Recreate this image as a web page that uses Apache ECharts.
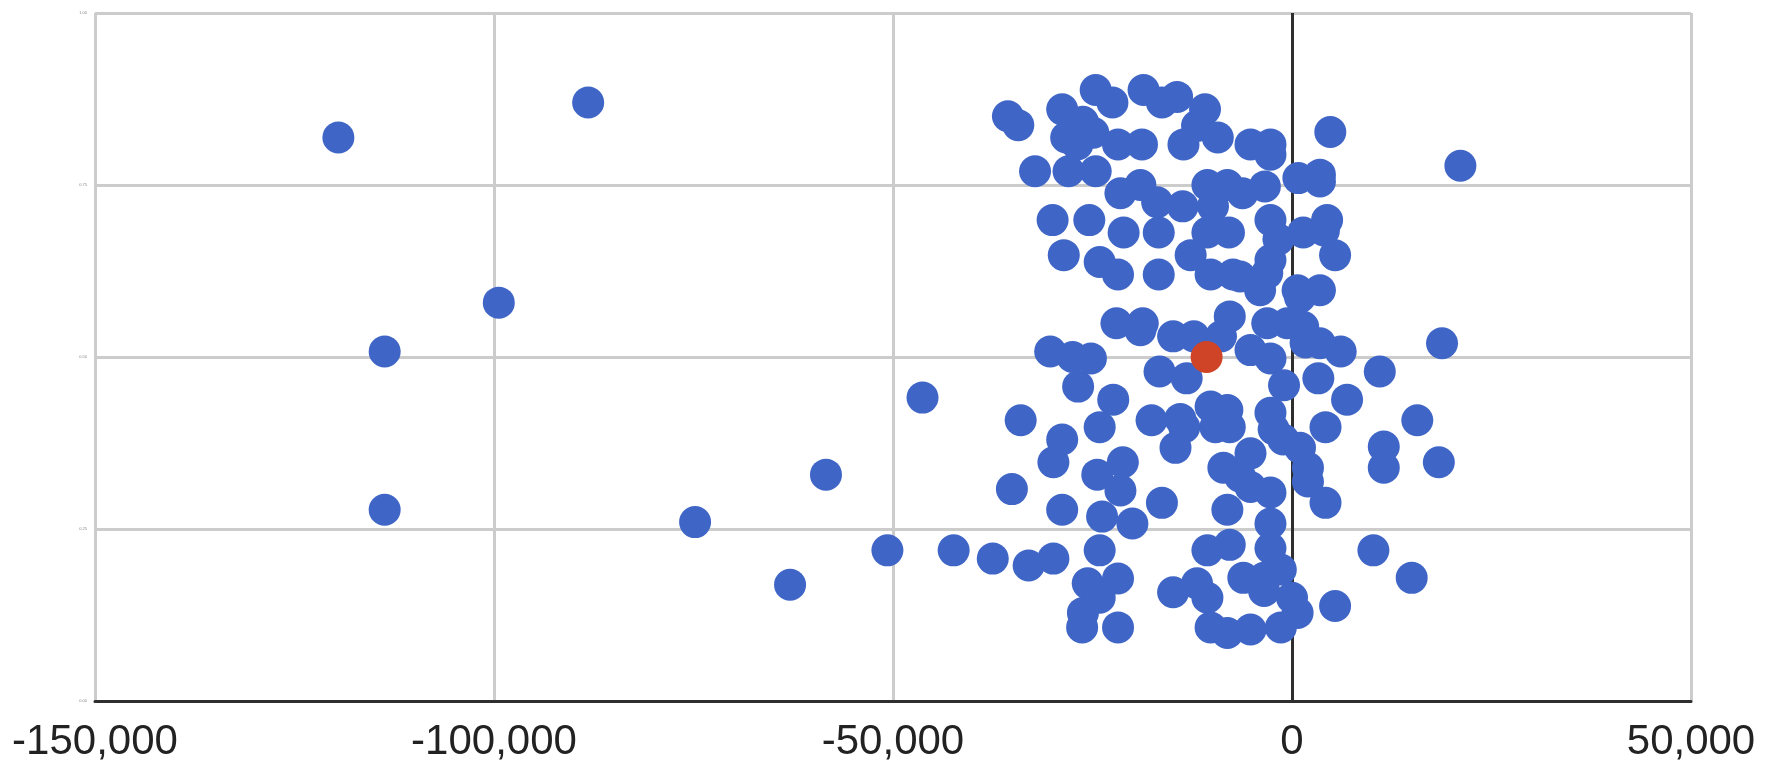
<!DOCTYPE html>
<html>
<head>
<meta charset="utf-8">
<script src="https://cdn.jsdelivr.net/npm/echarts@6/dist/echarts.min.js"></script>
<style>
html,body{margin:0;padding:0;background:#fff;}
#chart{width:1772px;height:781px;}
</style>
</head>
<body>
<div id="chart"></div>
<script>
// Axis ticks
const xTicks = [-150000, -100000, -50000, 0, 50000];
const yTicks = [0, 0.25, 0.5, 0.75, 1];

// Blue series (x value, y value)
const blueX = [
-119500,-88200,-99400,-113700,-113700,-74800,-58400,-62900,-50700,-46300,
-42400,-37500,-33000,-29900,-35100,-34000,-28800,-29900,-28800,-30300,
-27500,-25200,-26800,-22400,-24100,-24400,-21200,-21500,-23800,-20000,
-16300,-24100,-25600,-21800,-24100,-26200,-26300,-21800,-17600,-14000,
-13500,-14600,-10200,-8100,-9600,-7800,-16600,-13200,-8600,-8100,
-10600,-7800,-14900,-11900,-10600,-10200,-8100,-5200,-1400,-6500,
-5200,-2700,-5200,-2700,-2300,-1100,1000,2000,2000,4200,
-2700,-2700,-1400,-6100,-3500,-3500,0,700,5400,10200,
15000,11000,3300,-1000,6900,15700,4200,11500,11500,18400,
18800,6100,3500,1700,1400,-600,-3100,-5200,-2700,-7800,
-14900,-12300,-8900,-22000,-18700,-19000,-6500,-4000,700,3500,
1000,-2700,-3100,-28600,-24100,-21800,-16700,-12700,-10200,-7400,
5400,-2700,-1700,1400,4400,4000,-21100,-16700,-10600,-7900,
-30000,-25400,800,3500,3500,-10600,-8100,-9900,-6200,-3400,
-21500,-19000,-16900,-13700,-32200,-28000,-24600,-5200,-2700,-2700,
4800,21100,-10900,-11900,-13600,-9300,-18600,-16300,-14400,-21800,
-18800,-28800,-26200,-24900,-28300,-26900,-24600,-22500,-35600,-34300
];
const blueY = [
0.819,0.870,0.579,0.508,0.278,0.260,0.329,0.169,0.219,0.441,
0.219,0.207,0.197,0.207,0.308,0.408,0.380,0.347,0.278,0.508,
0.500,0.498,0.457,0.438,0.398,0.329,0.347,0.306,0.268,0.258,
0.288,0.219,0.171,0.178,0.150,0.128,0.107,0.107,0.408,0.410,
0.398,0.368,0.428,0.423,0.398,0.398,0.479,0.469,0.339,0.278,
0.219,0.227,0.158,0.171,0.150,0.107,0.099,0.104,0.107,0.326,
0.311,0.303,0.360,0.419,0.395,0.380,0.368,0.339,0.319,0.288,
0.258,0.222,0.191,0.179,0.179,0.160,0.150,0.128,0.138,0.219,
0.179,0.479,0.469,0.459,0.438,0.408,0.398,0.370,0.339,0.347,
0.520,0.508,0.520,0.521,0.544,0.549,0.549,0.510,0.498,0.559,
0.530,0.530,0.530,0.549,0.549,0.539,0.617,0.597,0.597,0.597,
0.587,0.641,0.622,0.648,0.638,0.620,0.620,0.648,0.620,0.620,
0.648,0.699,0.671,0.681,0.699,0.684,0.681,0.681,0.681,0.681,
0.699,0.699,0.760,0.765,0.755,0.750,0.750,0.719,0.738,0.748,
0.738,0.750,0.725,0.719,0.770,0.770,0.770,0.809,0.809,0.794,
0.827,0.778,0.860,0.836,0.809,0.819,0.888,0.870,0.878,0.809,
0.809,0.860,0.842,0.826,0.819,0.809,0.888,0.870,0.850,0.837
];

// Highlighted (red) point
const redX = [-10700];
const redY = [0.50];

const blueData = blueX.map((x, i) => [x, blueY[i]]);
const redData = redX.map((x, i) => [x, redY[i]]);

const chart = echarts.init(document.getElementById('chart'), null, {renderer: 'canvas'});
chart.setOption({
  animation: false,
  backgroundColor: '#ffffff',
  grid: {left: 95, right: 81, top: 13, bottom: 80, containLabel: false},
  xAxis: {
    type: 'value',
    min: xTicks[0],
    max: xTicks[xTicks.length - 1],
    interval: 50000,
    axisLine: {show: true, onZero: false, lineStyle: {color: '#2e2e2e', width: 3}},
    axisTick: {show: false},
    axisLabel: {
      fontSize: 42,
      fontFamily: 'Liberation Sans, Arial, sans-serif',
      color: '#222222',
      margin: 20,
      formatter: v => v.toLocaleString('en-US')
    },
    splitLine: {show: true, lineStyle: {color: '#cccccc', width: 3}}
  },
  yAxis: {
    type: 'value',
    min: yTicks[0],
    max: yTicks[yTicks.length - 1],
    interval: 0.25,
    axisLine: {show: false},
    axisTick: {show: false},
    axisLabel: {
      fontSize: 4,
      color: '#888888',
      margin: 8,
      formatter: v => v.toFixed(2)
    },
    splitLine: {show: true, lineStyle: {color: '#cccccc', width: 3}}
  },
  series: [
    {
      type: 'scatter',
      data: blueData,
      symbolSize: 32,
      itemStyle: {color: '#3f65c6', opacity: 1},
      z: 3,
      markLine: {
        silent: true,
        symbol: ['none', 'none'],
        label: {show: false},
        lineStyle: {color: '#2e2e2e', width: 3, type: 'solid'},
        data: [{xAxis: 0}],
        z: 1
      }
    },
    {
      type: 'scatter',
      data: redData,
      symbolSize: 32,
      itemStyle: {color: '#cf4427', opacity: 1},
      z: 4
    }
  ]
});
</script>
</body>
</html>
